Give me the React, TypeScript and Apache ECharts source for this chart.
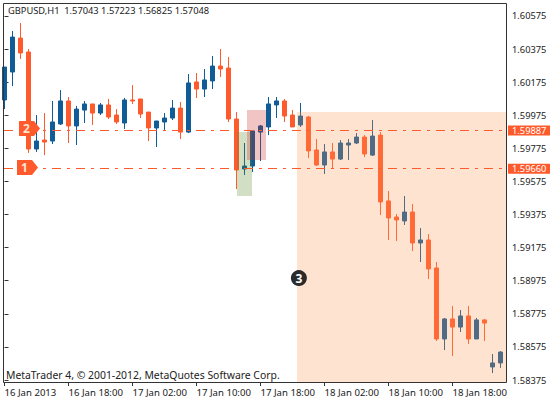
import React, { useEffect, useRef } from "react";
import * as echarts from "echarts";

const opens = [1.60067,1.60236,1.60441,1.60357,1.59771,1.59825,1.59819,1.59922,1.60061,1.59910,1.60006,1.60043,1.59988,1.60037,1.59976,1.59928,1.60067,1.60073,1.59994,1.59898,1.59934,1.59958,1.60018,1.59873,1.60176,1.60133,1.60182,1.60272,1.60260,1.59952,1.59650,1.59668,1.59873,1.59904,1.60037,1.60061,1.59976,1.59916,1.59964,1.59765,1.59674,1.59753,1.59710,1.59795,1.59807,1.59843,1.59734,1.59855,1.59457,1.59360,1.59336,1.59390,1.59203,1.59221,1.59052,1.58623,1.58744,1.58695,1.58762,1.58623,1.58738,1.58454,1.58478];
const closes = [1.60266,1.60447,1.60351,1.59771,1.59819,1.59813,1.59934,1.60061,1.59910,1.60012,1.60043,1.59988,1.60037,1.59964,1.59934,1.60067,1.60061,1.59982,1.59898,1.59940,1.59958,1.60018,1.59873,1.60170,1.60133,1.60188,1.60272,1.60254,1.59952,1.59644,1.59668,1.59880,1.59910,1.60043,1.60061,1.59970,1.59904,1.59970,1.59759,1.59674,1.59753,1.59710,1.59807,1.59807,1.59843,1.59741,1.59849,1.59451,1.59354,1.59342,1.59390,1.59203,1.59221,1.59046,1.58623,1.58744,1.58695,1.58762,1.58623,1.58738,1.58719,1.58478,1.58544];
const lows = [1.60012,1.60151,1.60315,1.59747,1.59753,1.59734,1.59801,1.59916,1.59807,1.59795,1.59928,1.59916,1.59976,1.59952,1.59922,1.59892,1.60043,1.59958,1.59819,1.59783,1.59886,1.59946,1.59831,1.59867,1.60079,1.60085,1.60133,1.60206,1.59934,1.59529,1.59614,1.59632,1.59698,1.59855,1.59958,1.59934,1.59904,1.59904,1.59716,1.59668,1.59620,1.59650,1.59704,1.59704,1.59801,1.59722,1.59728,1.59372,1.59221,1.59215,1.59312,1.59154,1.59088,1.58985,1.58611,1.58556,1.58520,1.58665,1.58593,1.58623,1.58611,1.58417,1.58448];
const highs = [1.60266,1.60484,1.60532,1.60375,1.59976,1.59988,1.60061,1.60127,1.60085,1.60031,1.60061,1.60043,1.60049,1.60073,1.60012,1.60079,1.60157,1.60073,1.59994,1.59940,1.59988,1.60067,1.60055,1.60224,1.60230,1.60254,1.60333,1.60375,1.60327,1.59994,1.59807,1.59880,1.59916,1.60085,1.60085,1.60073,1.60006,1.60049,1.59970,1.59831,1.59801,1.59807,1.59825,1.59831,1.59867,1.59855,1.59946,1.59873,1.59517,1.59378,1.59487,1.59438,1.59293,1.59257,1.59088,1.58750,1.58822,1.58798,1.58822,1.58750,1.58744,1.58532,1.58550];

const yTicks = [1.60575,1.60375,1.60175,1.59975,1.59775,1.59575,1.59375,1.59175,1.58975,1.58775,1.58575,1.58375];
const xTickIndex = [0,8,16,24,32,40,48,56];
const xTickLabels = ["16 Jan 2013","16 Jan 18:00","17 Jan 02:00","17 Jan 10:00","17 Jan 18:00","18 Jan 02:00","18 Jan 10:00","18 Jan 18:00"];
const levelLabels = ["1.59887","1.59660"];
const levelPrices = [1.59883,1.59652];
const titleText = "GBPUSD,H1  1.57043 1.57223 1.56825 1.57048";
const footerText = "MetaTrader 4, © 2001-2012, MetaQuotes Software Corp.";

const BLUE = "#0F5C96";
const ORANGE = "#FF5A2C";
const FONT = "'Noto Sans'";
const TEXT = "#222222";
const X_MIN = -0.0625;
const X_MAX = 62.6875;
const Y_MIN = 1.58363;
const Y_MAX = 1.60653;

export default function App() {
  const ref = useRef<HTMLDivElement>(null);
  useEffect(() => {
    document.body.style.margin = "0";
    const chart = echarts.init(ref.current!, undefined, { renderer: "svg" });
    const arrow = "path://M0 0 L15 0 L21 7.5 L15 15 L0 15 Z";
    chart.setOption({
      animation: false,
      backgroundColor: "#ffffff",
      grid: { show: false, left: 4, top: 3, width: 502, height: 379 },
      xAxis: {
        type: "value", min: X_MIN, max: X_MAX, splitLine: { show: false },
        axisLine: { show: false },
        axisTick: { show: true, length: 4, customValues: xTickIndex, lineStyle: { color: "#333333" } },
        axisLabel: {
          show: true, customValues: xTickIndex, margin: 5, color: TEXT, fontFamily: FONT, fontSize: 9.6, align: "left",
          formatter: (v: number) => xTickLabels[xTickIndex.indexOf(v)] ?? "",
        },
      },
      yAxis: {
        type: "value", position: "right", min: Y_MIN, max: Y_MAX, splitLine: { show: false },
        axisLine: { show: false },
        axisTick: { show: true, length: 4, customValues: yTicks, lineStyle: { color: "#333333" } },
        axisLabel: {
          show: true, customValues: yTicks, margin: 6, color: TEXT, fontFamily: FONT, fontSize: 9.3,
          formatter: (v: number) => v.toFixed(5),
        },
      },
      graphic: [
        { type: "rect", z: 10, silent: true, shape: { x: 3.5, y: 3.5, width: 503, height: 379 }, style: { fill: "none", stroke: "#333333", lineWidth: 1 } },
        { type: "text", x: 8, y: 6, z: 20, style: { text: titleText, fill: TEXT, font: `9.3px ${FONT}` } },
        { type: "text", x: 6, y: 370, z: 20, style: { text: footerText, fill: TEXT, font: `10.4px ${FONT}` } },
      ],
      series: [
        {
          type: "candlestick", barWidth: 4, z: 2,
          itemStyle: { color: BLUE, color0: ORANGE, borderColor: BLUE, borderColor0: ORANGE, borderWidth: 1 },
          encode: { x: 0, y: [1, 2, 3, 4] },
          data: opens.map((o, i) => [i, o, closes[i], lows[i], highs[i]]),
        },
        {
          type: "line", data: [], z: 4, silent: true,
          markArea: {
            z: 3, silent: true,
            data: [
              [{ coord: [36.56, 1.59994], itemStyle: { color: "rgba(255,152,85,0.27)" } }, { coord: [X_MAX, Y_MIN] }],
              [{ coord: [29.06, 1.59873], itemStyle: { color: "rgba(92,137,40,0.27)" } }, { coord: [30.94, 1.59487] }],
              [{ coord: [30.31, 1.60006], itemStyle: { color: "rgba(203,40,37,0.27)" } }, { coord: [32.69, 1.59704] }],
            ],
          },
          markLine: {
            z: 4, silent: true, symbol: "none",
            lineStyle: { color: ORANGE, width: 1, type: [9, 6, 3, 6], opacity: 1 },
            label: {
              show: true, position: "end", distance: 2, color: "#fff", backgroundColor: ORANGE,
              fontFamily: FONT, fontSize: 9.3, padding: [0, 4, 0, 4], lineHeight: 10, height: 10,
            },
            data: levelPrices.map((p, i) => [
              { coord: [X_MIN, p], label: { formatter: levelLabels[i] } },
              { coord: [X_MAX, p] },
            ]),
          },
          markPoint: {
            z: 6, silent: true,
            data: [
              { coord: [3.125, 1.59895], symbol: arrow, symbolSize: [21, 15], itemStyle: { color: ORANGE },
                label: { show: true, formatter: "2", color: "#FFE3D1", fontFamily: FONT, fontWeight: "bold", fontSize: 12, offset: [-3, 0] } },
              { coord: [2.875, 1.59659], symbol: arrow, symbolSize: [21, 15], itemStyle: { color: ORANGE },
                label: { show: true, formatter: "1", color: "#FFE3D1", fontFamily: FONT, fontWeight: "bold", fontSize: 12, offset: [-3, 0] } },
              { coord: [36.8, 1.58991], symbol: "circle", symbolSize: 16, itemStyle: { color: "#2B2B2B" },
                label: { show: true, formatter: "3", color: "#ffffff", fontFamily: FONT, fontWeight: "bold", fontSize: 12 } },
            ],
          },
        },
      ],
    });
    return () => chart.dispose();
  }, []);
  return <div ref={ref} style={{ width: 550, height: 404 }} />;
}
